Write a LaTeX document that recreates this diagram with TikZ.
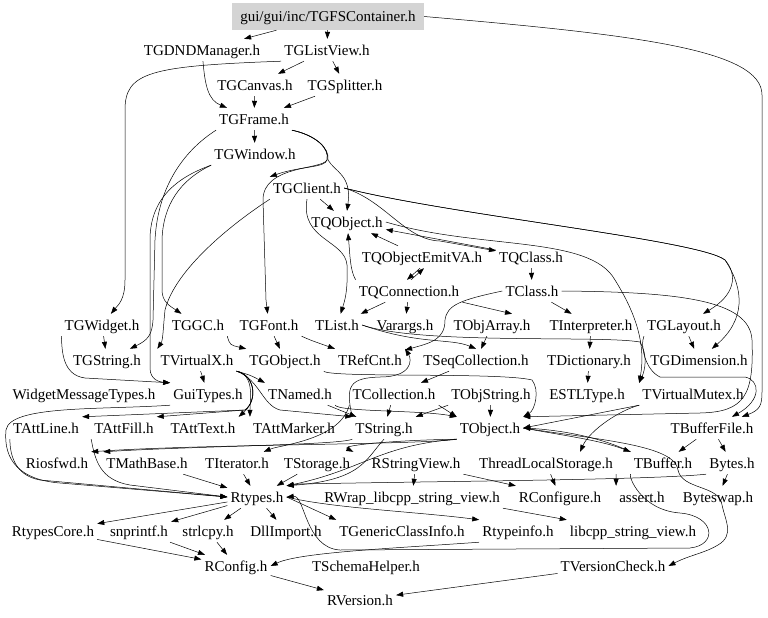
\documentclass[tikz,border=0pt]{standalone}
\usepackage{fontspec}
\setmainfont{Liberation Serif}
\usetikzlibrary{arrows.meta}
\begin{document}
\begin{tikzpicture}[x=1pt,y=-1pt,
  n/.style={inner xsep=3pt, inner ysep=0pt, text height=10.5pt, text depth=0pt, minimum height=22pt, font=\fontsize{15}{17}\selectfont},
  e/.style={draw=black, line width=0.5pt, -{Triangle[length=7pt,width=5pt]}}]
\useasboundingbox (0,0) rectangle (768,618);
% nodes
\node[n, fill=black!17, minimum width=192pt, minimum height=27pt] (fs) at (328,16.5) {gui/gui/inc/TGFSContainer.h};
\node[n] (dnd) at (202,50) {TGDNDManager.h};
\node[n] (lv) at (327,50) {TGListView.h};
\node[n] (canv) at (255,85) {TGCanvas.h};
\node[n] (spl) at (345,85) {TGSplitter.h};
\node[n] (frame) at (254,119) {TGFrame.h};
\node[n] (win) at (255,154) {TGWindow.h};
\node[n] (client) at (307,188) {TGClient.h};
\node[n] (qobj) at (347,222) {TQObject.h};
\node[n] (emit) at (422,257) {TQObjectEmitVA.h};
\node[n] (qclass) at (531,257) {TQClass.h};
\node[n] (qconn) at (409,291) {TQConnection.h};
\node[n] (tclass) at (532,291) {TClass.h};
\node[n] (widget) at (102,325) {TGWidget.h};
\node[n] (gc) at (198,325) {TGGC.h};
\node[n] (font) at (269,325) {TGFont.h};
\node[n] (list) at (337,325) {TList.h};
\node[n] (vararg) at (405,325) {Varargs.h};
\node[n] (objarr) at (492,325) {TObjArray.h};
\node[n] (interp) at (591,325) {TInterpreter.h};
\node[n] (layout) at (684,325) {TGLayout.h};
\node[n] (gstr) at (107,360) {TGString.h};
\node[n] (vx) at (197,360) {TVirtualX.h};
\node[n] (gobj) at (285,360) {TGObject.h};
\node[n] (refcnt) at (370,360) {TRefCnt.h};
\node[n] (seqc) at (476,360) {TSeqCollection.h};
\node[n] (dict) at (589,360) {TDictionary.h};
\node[n] (dim) at (699,360) {TGDimension.h};
\node[n] (wmt) at (84,394) {WidgetMessageTypes.h};
\node[n] (guit) at (208,394) {GuiTypes.h};
\node[n] (named) at (300,394) {TNamed.h};
\node[n] (coll) at (394,394) {TCollection.h};
\node[n] (objstr) at (491,394) {TObjString.h};
\node[n] (estl) at (587,394) {ESTLType.h};
\node[n] (vmutex) at (693,394) {TVirtualMutex.h};
\node[n] (attline) at (46,428) {TAttLine.h};
\node[n] (attfill) at (124,428) {TAttFill.h};
\node[n] (atttext) at (203,428) {TAttText.h};
\node[n] (attmark) at (294,428) {TAttMarker.h};
\node[n] (tstr) at (384,428) {TString.h};
\node[n] (tobj) at (490,428) {TObject.h};
\node[n] (bfile) at (712,428) {TBufferFile.h};
\node[n] (riosfwd) at (57,463) {Riosfwd.h};
\node[n] (mathb) at (147,463) {TMathBase.h};
\node[n] (iter) at (237,463) {TIterator.h};
\node[n] (stor) at (317,463) {TStorage.h};
\node[n] (rsv) at (416,463) {RStringView.h};
\node[n] (tls) at (546,463) {ThreadLocalStorage.h};
\node[n] (tbuf) at (663,463) {TBuffer.h};
\node[n] (bytes) at (732,463) {Bytes.h};
\node[n] (rtypes) at (257,497) {Rtypes.h};
\node[n] (rwrap) at (412,497) {RWrap\_libcpp\_string\_view.h};
\node[n] (rconfigure) at (560,497) {RConfigure.h};
\node[n] (assert) at (642,497) {assert.h};
\node[n] (byteswap) at (718,497) {Byteswap.h};
\node[n] (rcore) at (53,531) {RtypesCore.h};
\node[n] (snpr) at (139,531) {snprintf.h};
\node[n] (strl) at (208,531) {strlcpy.h};
\node[n] (dll) at (286,531) {DllImport.h};
\node[n] (gci) at (402,531) {TGenericClassInfo.h};
\node[n] (rtinfo) at (518,531) {Rtypeinfo.h};
\node[n] (libcpp) at (633,531) {libcpp\_string\_view.h};
\node[n] (rconfig) at (236,566) {RConfig.h};
\node[n] (schema) at (366,566) {TSchemaHelper.h};
\node[n] (vcheck) at (613,566) {TVersionCheck.h};
\node[n] (rversion) at (360,600) {RVersion.h};
% edges
\draw[e] (fs) -- (dnd);
\draw[e] (fs) -- (lv);
\draw[e] (fs.east) .. controls (640,35) and (762,50) .. (762,95) -- (762,392) .. controls (762,405) and (760,410) .. (bfile);
\draw[e] (lv) -- (canv);
\draw[e] (lv) -- (spl);
\draw[e] (lv.south west) .. controls (150,66) and (125,72) .. (125,110) -- (125,280) .. controls (125,300) and (118,305) .. (widget);
\draw[e] (dnd) .. controls (205,85) and (208,100) .. (frame);
\draw[e] (canv) -- (frame);
\draw[e] (spl) -- (frame);
\draw[e] (frame) -- (win);
\draw[e] (frame.south east) .. controls (315,135) and (330,148) .. (327,160) .. controls (325,168) and (300,166) .. (client.north west);
\draw[e] (frame.south east) .. controls (315,135) and (330,148) .. (328,160) .. controls (335,172) and (352,175) .. (qobj.north);
\draw[e] (frame.south east) .. controls (315,135) and (330,148) .. (327,160) .. controls (322,170) and (263,165) .. (263,200) -- (266,300) -- (font);
\draw[e] (frame.south west) .. controls (185,150) and (158,185) .. (155,240) -- (153,320) .. controls (152,335) and (148,340) .. (gstr);
\draw[e] (win.south west) .. controls (180,180) and (163,205) .. (162,240) -- (162,290) .. controls (162,302) and (170,306) .. (gc);
\draw[e] (win.south west) .. controls (175,178) and (150,200) .. (150,240) -- (150,368) .. controls (150,380) and (160,382) .. (guit.north west);
\draw[e] (client.south west) .. controls (230,225) and (175,270) .. (165,310) .. controls (163,330) and (163,340) .. (vx.north west);
\draw[e] (client) -- (qobj);
\draw[e] (client.south) .. controls (300,240) and (345,240) .. (347,265) .. controls (348,290) and (345,300) .. (list);
\draw[e] (client.east) .. controls (450,215) and (700,240) .. (725,260) .. controls (738,275) and (735,295) .. (layout);
\draw[e] (client.east) .. controls (450,215) and (700,240) .. (725,260) .. controls (745,290) and (745,320) .. (dim);
\draw[e] (client.east) .. controls (385,200) and (405,240) .. (440,241) -- (qclass);
\draw[e] (qclass) .. controls (470,245) and (420,236) .. (qobj);
\draw[e] (emit) -- (qobj);
\draw[e] (qobj.east) .. controls (480,250) and (590,235) .. (615,280) .. controls (640,320) and (645,350) .. (vmutex.north west);
\draw[e] ([xshift=-2pt]emit.south) -- ([xshift=-2pt]qconn.north);
\draw[e] ([xshift=2pt]qconn.north) -- ([xshift=2pt]emit.south);
\draw[e] (qconn.north west) .. controls (350,270) and (350,255) .. (qobj);
\draw[e] (qconn) -- (list);
\draw[e] (qconn) -- (vararg);
\draw[e] (qconn.south east) -- ([xshift=20pt]objarr.north);
\draw[e] (qclass) -- (tclass);
\draw[e] (tclass) -- (interp);
\draw[e] (tclass.west) .. controls (460,300) and (447,305) .. (445,320) .. controls (445,340) and (430,343) .. (refcnt);
\draw[e] (tclass.east) .. controls (680,292) and (750,300) .. (752,340) .. controls (754,395) and (745,412) .. (700,413) -- (tobj.north east);
\draw[e] (interp) -- (dict);
\draw[e] (dict) -- (estl);
\draw[e] (layout) -- (dim);
\draw[e] (layout.south west) .. controls (640,345) and (645,370) .. (660,377) -- (745,377) .. controls (760,380) and (762,400) .. (bfile);
\draw[e] (objarr) -- (seqc);
\draw[e] (list.east) .. controls (420,345) and (450,338) .. (seqc.north);
\draw[e] (list.east) .. controls (420,345) and (600,335) .. (640,342) .. controls (648,355) and (645,370) .. (vmutex.north west);
\draw[e] (gc.south east) .. controls (230,345) .. (gobj.north west);
\draw[e] (font) -- (gobj);
\draw[e] (font.south east) .. controls (310,340) .. (refcnt.north west);
\draw[e] (widget) -- (gstr);
\draw[e] (widget.south west) .. controls (62,350) and (62,375) .. (85,378) -- (guit.north west);
\draw[e] (vx) -- (guit);
\draw[e] (vx.south east) .. controls (255,375) and (258,400) .. (245,410) -- (attline.north east);
\draw[e] (vx.south east) .. controls (255,375) and (258,400) .. (245,410) -- (attfill.north east);
\draw[e] (vx.south east) .. controls (255,375) and (258,400) .. (atttext.north east);
\draw[e] (vx.south east) .. controls (255,375) and (250,400) .. (attmark.north west);
\draw[e] (vx.south east) .. controls (260,380) and (262,405) .. (280,410) -- (tstr.north west);
\draw[e] (vx.south east) .. controls (250,375) .. (named.north west);
\draw[e] (gobj.south east) .. controls (330,378) and (500,372) .. (532,380) .. controls (540,390) and (535,410) .. (tobj.north east);
\draw[e] (named) -- (tstr);
\draw[e] (named.south east) .. controls (340,412) and (420,410) .. (tobj.north west);
\draw[e] (coll) -- (tstr);
\draw[e] (coll.south east) -- (tobj.north west);
\draw[e] (objstr.south west) -- (tstr.north east);
\draw[e] (objstr) -- (tobj);
\draw[e] (seqc) -- (coll);
\draw[e] (coll.south west) .. controls (340,440) and (280,445) .. (iter);
\draw[e] (tstr.north west) .. controls (345,385) and (350,378) .. (380,377) .. controls (412,377) and (412,360) .. (refcnt.north east);
\draw[e] (tobj.south west) .. controls (420,445) and (200,444) .. (riosfwd.north east);
\draw[e] (tstr.south west) .. controls (340,445) and (200,446) .. (mathb.north west);
\draw[e] (tstr.south) .. controls (365,460) and (362,480) .. (rtypes.north east);
\draw[e] (tobj.south west) .. controls (380,445) and (362,470) .. (rtypes.north east);
\draw[e] (tobj.south west) .. controls (400,440) and (340,445) .. (stor.north east);
\draw[e] (tobj.east) .. controls (560,435) and (600,440) .. (tbuf.north west);
\draw[e] (tbuf.north west) .. controls (600,437) and (560,430) .. (tobj.east);
\draw[e] (tobj.east) .. controls (600,440) and (675,445) .. (678,470) .. controls (682,490) and (720,485) .. (722,505) .. controls (725,520) and (735,535) .. (718,545) .. controls (705,553) and (690,555) .. (vcheck.east);
\draw[e] (vmutex.south west) .. controls (620,410) and (590,430) .. ([xshift=34pt]tls.north);
\draw[e] (vmutex.south west) -- (tobj.east);
\draw[e] (rsv) -- (rwrap);
\draw[e] (rsv.south east) -- (rconfigure.north west);
\draw[e] (tls) -- (rconfigure);
\draw[e] (tls.south east) -- (assert.north west);
\draw[e] (bytes) -- (byteswap);
\draw[e] (bytes.south west) .. controls (650,480) and (450,481) .. (300,484) -- (rtypes.north east);
\draw[e] (bfile) -- (tbuf);
\draw[e] (bfile) -- (bytes);
\draw[e] (mathb) -- (rtypes);
\draw[e] (iter) -- (rtypes);
\draw[e] (stor) -- (rtypes);
\draw[e] (guit.south west) .. controls (100,410) and (10,405) .. (6,430) .. controls (3,460) and (20,480) .. (60,483) -- (rtypes.west);
\draw[e] (attline.south west) .. controls (10,450) and (12,475) .. (40,480) -- (rtypes.west);
\draw[e] (attfill.south west) .. controls (95,460) and (100,480) .. (130,485) -- (rtypes.west);
\draw[e] (rtypes) -- (rcore);
\draw[e] (rtypes) -- (snpr);
\draw[e] (rtypes) -- (strl);
\draw[e] (rtypes) -- (dll);
\draw[e] (rtypes.east) -- (gci.north west);
\draw[e] (rtypes.east) .. controls (330,508) and (420,512) .. (rtinfo.north west);
\draw[e] (tbuf.south west) .. controls (628,475) and (640,510) .. (680,513) .. controls (715,516) and (718,545) .. (690,548) -- (340,550) .. controls (305,548) and (305,495) .. (rtypes.east);
\draw[e] (rwrap.south east) -- (libcpp.north west);
\draw[e] (rcore) -- (rconfig);
\draw[e] (snpr) -- (rconfig);
\draw[e] (strl) -- (rconfig);
\draw[e] (rtinfo.south west) .. controls (400,548) and (300,552) .. (rconfig.east);
\draw[e] (rconfig) -- (rversion);
\draw[e] (vcheck) -- (rversion);
\end{tikzpicture}
\end{document}
